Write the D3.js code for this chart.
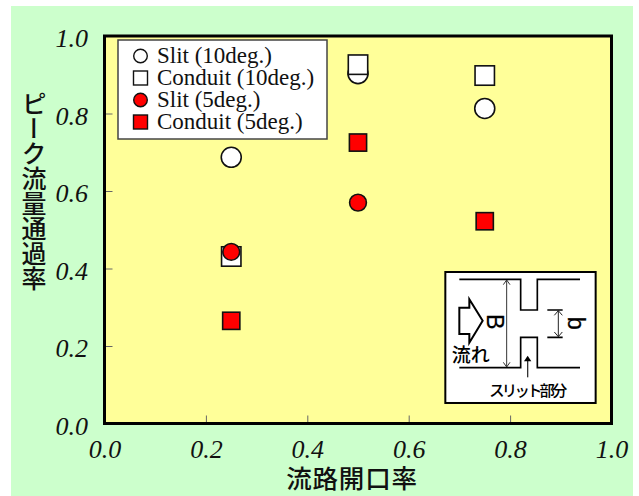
<!DOCTYPE html>
<html><head><meta charset="utf-8">
<script src="https://cdnjs.cloudflare.com/ajax/libs/d3/7.8.5/d3.min.js"></script>
<style>html,body{margin:0;padding:0;background:#fff}svg{display:block}</style>
</head><body><svg id="c" width="639" height="496"></svg>
<script>
const tickValues = [0, 0.2, 0.4, 0.6, 0.8, 1.0];
const xTitle = "流路開口率";
const yTitle = "ピーク流量通過率";
const slit10 = [[0.25, 0.687], [0.5, 0.903], [0.75, 0.813]];
const conduit10 = [[0.25, 0.431], [0.5, 0.926], [0.75, 0.898]];
const slit5 = [[0.25, 0.443], [0.5, 0.570]];
const conduit5 = [[0.25, 0.265], [0.5, 0.725], [0.75, 0.522]];
const legendLabels = ["Slit (10deg.)", "Conduit (10deg.)", "Slit (5deg.)", "Conduit (5deg.)"];

const serif = "'Liberation Serif','Times New Roman',serif";
const cjk = "'Noto Sans CJK JP',sans-serif";
const svg = d3.select("#c");
const x = d3.scaleLinear().domain([0, 1]).range([104.5, 611.5]);
const y = d3.scaleLinear().domain([0, 1]).range([423.5, 36]);

svg.append("rect").attr("x", 11).attr("y", 6).attr("width", 622).attr("height", 490).attr("fill", "#ccffcc");
svg.append("rect").attr("x", x(0)).attr("y", y(1)).attr("width", x(1) - x(0)).attr("height", y(0) - y(1)).attr("fill", "#ffff99");

const fmt = d3.format(".1f");
const gx = svg.append("g").attr("transform", `translate(0,${y(0)})`)
  .call(d3.axisBottom(x).tickValues(tickValues).tickFormat(fmt).tickSizeInner(-8).tickSizeOuter(0).tickPadding(16));
const gy = svg.append("g").attr("transform", `translate(${x(0)},0)`)
  .call(d3.axisLeft(y).tickValues(tickValues).tickFormat(fmt).tickSizeInner(-8).tickSizeOuter(0).tickPadding(16.5));
[gx, gy].forEach(g => {
  g.select(".domain").remove();
  g.selectAll("line").attr("stroke", "#666").attr("stroke-width", 1);
  g.selectAll("text").attr("fill", "#111").attr("font-family", serif).attr("font-style", "italic").attr("font-size", 26);
});
gy.selectAll("text").attr("dy", "10.5px");

svg.append("rect").attr("x", x(0)).attr("y", y(1)).attr("width", x(1) - x(0)).attr("height", y(0) - y(1))
  .attr("fill", "none").attr("stroke", "#000").attr("stroke-width", 3);

function drawSeries(data, kind, fill, r) {
  const g = svg.append("g");
  if (kind === "circle") {
    g.selectAll("circle").data(data).join("circle")
      .attr("cx", d => x(d[0])).attr("cy", d => y(d[1])).attr("r", r)
      .attr("fill", fill).attr("stroke", "#111").attr("stroke-width", 1.6);
  } else {
    g.selectAll("rect").data(data).join("rect")
      .attr("x", d => x(d[0]) - r).attr("y", d => y(d[1]) - r).attr("width", 2 * r).attr("height", 2 * r)
      .attr("fill", fill).attr("stroke", "#111").attr("stroke-width", 1.6);
  }
}
drawSeries(slit10, "circle", "#fff", 10);
drawSeries(conduit10, "rect", "#fff", 9.7);
drawSeries(slit5, "circle", "#f00", 8.4);
drawSeries(conduit5, "rect", "#f00", 8.6);

// legend
const lg = svg.append("g");
lg.append("rect").attr("x", 118).attr("y", 40).attr("width", 209).attr("height", 99)
  .attr("fill", "#fff").attr("stroke", "#444").attr("stroke-width", 1.5);
const legendKinds = ["circle", "rect", "circle", "rect"];
const legendFills = ["#fff", "#fff", "#f00", "#f00"];
const ly = d3.scalePoint().domain(d3.range(4)).range([56, 122]);
legendLabels.forEach((t, i) => {
  const cy = ly(i);
  if (legendKinds[i] === "circle") {
    lg.append("circle").attr("cx", 140.5).attr("cy", cy).attr("r", 6.8)
      .attr("fill", legendFills[i]).attr("stroke", "#111").attr("stroke-width", 1.4);
  } else {
    lg.append("rect").attr("x", 133.5).attr("y", cy - 7).attr("width", 14).attr("height", 14)
      .attr("fill", legendFills[i]).attr("stroke", "#111").attr("stroke-width", 1.4);
  }
  lg.append("text").attr("x", 157).attr("y", cy + 7).attr("font-family", serif).attr("font-size", 23)
    .attr("fill", "#111").text(t);
});

// axis titles
svg.append("text").attr("x", 352).attr("y", 487.5).attr("text-anchor", "middle")
  .attr("font-family", cjk).attr("font-weight", 500).attr("font-size", 25.5).attr("letter-spacing", "0.8px")
  .attr("fill", "#111").text(xTitle);
svg.append("text").attr("x", 34).attr("y", 91)
  .style("writing-mode", "vertical-rl")
  .attr("font-family", cjk).attr("font-weight", 500).attr("font-size", 25)
  .attr("fill", "#111").text(yTitle);

// inset schematic (local coordinates are 3x the page scale)
const inset = svg.append("g").attr("transform", "translate(430,260) scale(0.3333)");
inset.append("rect").attr("x", 46).attr("y", 36).attr("width", 451).attr("height", 393)
  .attr("fill", "#fff").attr("stroke", "#000").attr("stroke-width", 6);
const walls = [
  [[88,58],[272,58],[272,150],[322,150],[322,58],[450,58]],
  [[88,323],[272,323],[272,232],[322,232],[322,323],[450,323]],
];
const line = d3.line();
walls.forEach(w => inset.append("path").attr("d", line(w)).attr("fill", "none").attr("stroke", "#000").attr("stroke-width", 5));
inset.append("path").attr("d", line([[88,143],[118,143],[118,118],[158,182],[118,248],[118,222],[88,222]]) + "Z")
  .attr("fill", "#fff").attr("stroke", "#000").attr("stroke-width", 6);
inset.append("path").attr("d", "M230,60V321M220,74L230,60L240,74M220,307L230,321L240,307").attr("fill", "none").attr("stroke", "#333").attr("stroke-width", 3);
inset.append("path").attr("d", "M352,150H398M352,232H398").attr("fill", "none").attr("stroke", "#000").attr("stroke-width", 5);
inset.append("path").attr("d", "M385,152V230M373,166L385,152L397,166M373,216L385,230L397,216").attr("fill", "none").attr("stroke", "#222").attr("stroke-width", 3);
inset.append("path").attr("d", "M293,352V300").attr("stroke", "#333").attr("stroke-width", 4);
inset.append("path").attr("d", "M293,287L304,304H282Z").attr("fill", "#000");
inset.append("text").attr("transform", "translate(171,185) rotate(90)").attr("text-anchor", "middle")
  .attr("font-family", "'Liberation Sans',sans-serif").attr("font-size", 70).attr("stroke", "#000").attr("stroke-width", 0.8).attr("fill", "#000").text("B");
inset.append("text").attr("transform", "translate(413,190) rotate(90)").attr("text-anchor", "middle")
  .attr("font-family", "'Liberation Sans',sans-serif").attr("font-size", 70).attr("stroke", "#000").attr("stroke-width", 0.8).attr("fill", "#000").text("b");
inset.append("text").attr("x", 65).attr("y", 307).attr("font-family", cjk).attr("font-weight", 500).attr("font-size", 57).attr("fill", "#000").text("流れ");
inset.append("text").attr("x", 178).attr("y", 409).attr("font-family", cjk).attr("font-weight", 500).attr("font-size", 46).attr("textLength", 234).attr("fill", "#000").text("スリット部分");
</script></body></html>
